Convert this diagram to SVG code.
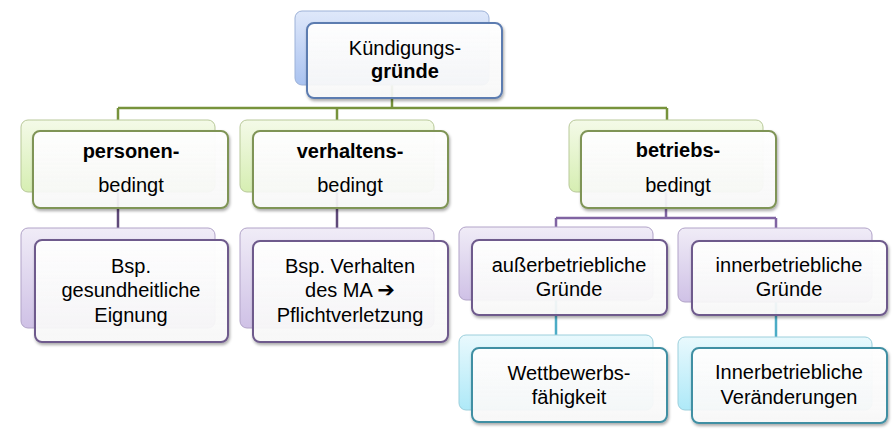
<svg xmlns="http://www.w3.org/2000/svg" width="896" height="440" viewBox="0 0 896 440">
<defs>
<linearGradient id="gBlue" x1="0" y1="0" x2="0" y2="1"><stop offset="0" stop-color="#dfe8fa"/><stop offset="1" stop-color="#a9c2f0"/></linearGradient>
<linearGradient id="gGreen" x1="0" y1="0" x2="0" y2="1"><stop offset="0" stop-color="#f4fae8"/><stop offset="1" stop-color="#d6eeb2"/></linearGradient>
<linearGradient id="gPurple" x1="0" y1="0" x2="0" y2="1"><stop offset="0" stop-color="#f0ecf7"/><stop offset="1" stop-color="#cfc1e6"/></linearGradient>
<linearGradient id="gCyan" x1="0" y1="0" x2="0" y2="1"><stop offset="0" stop-color="#e9f9fd"/><stop offset="1" stop-color="#aee9f8"/></linearGradient>
<linearGradient id="gFront" x1="0" y1="0" x2="0" y2="1"><stop offset="0" stop-color="#ffffff" stop-opacity="0.97"/><stop offset="1" stop-color="#fbfbfb" stop-opacity="0.9"/></linearGradient>
<filter id="sh" x="-10%" y="-10%" width="125%" height="130%"><feDropShadow dx="1" dy="2" stdDeviation="1.5" flood-color="#000" flood-opacity="0.35"/></filter>
</defs>
<style>
.b{stroke-width:1}
.f{fill:url(#gFront);stroke-width:2;filter:url(#sh)}
.bb{fill:url(#gBlue);stroke:#9db2d8}
.fb{stroke:#5b7bb0}
.bg{fill:url(#gGreen);stroke:#b9c99a}
.fg{stroke:#7f9457}
.bp{fill:url(#gPurple);stroke:#b1a3c8}
.fp{stroke:#6e5a8c}
.bc{fill:url(#gCyan);stroke:#9ccfdc}
.fc{stroke:#3f8fa3}
text{font-family:"Liberation Sans",Arial,sans-serif;font-size:20px;fill:#000;text-anchor:middle}
.bold{font-weight:bold}
.ln{fill:none;stroke-width:2.5}
</style>
<g id="connectors">
<path class="ln" stroke="#77933c" d="M392 85V108M118 108H667M118 108V120M337 108V120M667 108V120"/>
<path class="ln" stroke="#5f497a" d="M118 192V228M337 192V228"/>
<path class="ln" stroke="#8064a2" d="M666 192V218M556 218H776M556 218V227M776 218V228"/>
<path class="ln" stroke="#4bacc6" d="M556 300V335M776 302V337"/>
</g>
<g id="kuendigungsgruende">
<rect class="b bb" x="295" y="11" width="194" height="74" rx="7"/>
<rect class="f fb" x="307" y="23" width="195" height="75" rx="7"/>
<text x="405" y="55">Kündigungs-</text>
<text x="405" y="78" class="bold">gründe</text>
</g>
<g id="personenbedingt">
<rect class="b bg" x="21" y="120" width="194" height="72" rx="7"/>
<rect class="f fg" x="33" y="131" width="195" height="77" rx="7"/>
<text x="131" y="158" class="bold">personen-</text>
<text x="131" y="192">bedingt</text>
</g>
<g id="verhaltensbedingt">
<rect class="b bg" x="240" y="120" width="194" height="72" rx="7"/>
<rect class="f fg" x="253" y="131" width="195" height="77" rx="7"/>
<text x="350" y="158" class="bold">verhaltens-</text>
<text x="350" y="192">bedingt</text>
</g>
<g id="betriebsbedingt">
<rect class="b bg" x="569" y="120" width="194" height="72" rx="7"/>
<rect class="f fg" x="581" y="131" width="195" height="77" rx="7"/>
<text x="678" y="157" class="bold">betriebs-</text>
<text x="678" y="192">bedingt</text>
</g>
<g id="bsp-eignung">
<rect class="b bp" x="21" y="228" width="194" height="100" rx="7"/>
<rect class="f fp" x="35" y="240" width="193" height="102" rx="7"/>
<text x="131" y="273">Bsp.</text>
<text x="131" y="297">gesundheitliche</text>
<text x="131" y="322">Eignung</text>
</g>
<g id="bsp-verhalten">
<rect class="b bp" x="240" y="228" width="194" height="100" rx="7"/>
<rect class="f fp" x="253" y="241" width="195" height="101" rx="7"/>
<text x="350" y="273">Bsp. Verhalten</text>
<text x="350" y="297">des MA <tspan font-family="DejaVu Sans" font-weight="bold" font-size="21">➔</tspan></text>
<text x="350" y="322">Pflichtverletzung</text>
</g>
<g id="ausserbetrieblich">
<rect class="b bp" x="459" y="227" width="194" height="73" rx="7"/>
<rect class="f fp" x="472" y="240" width="195" height="75" rx="7"/>
<text x="569" y="272">außerbetriebliche</text>
<text x="569" y="296">Gründe</text>
</g>
<g id="innerbetrieblich">
<rect class="b bp" x="678" y="228" width="194" height="74" rx="7"/>
<rect class="f fp" x="692" y="241" width="195" height="74" rx="7"/>
<text x="789" y="272">innerbetriebliche</text>
<text x="789" y="296">Gründe</text>
</g>
<g id="wettbewerb">
<rect class="b bc" x="459" y="335" width="194" height="75" rx="7"/>
<rect class="f fc" x="472" y="348" width="195" height="74" rx="7"/>
<text x="569" y="380">Wettbewerbs-</text>
<text x="569" y="404">fähigkeit</text>
</g>
<g id="veraenderungen">
<rect class="b bc" x="678" y="337" width="194" height="73" rx="7"/>
<rect class="f fc" x="692" y="348" width="195" height="75" rx="7"/>
<text x="789" y="379">Innerbetriebliche</text>
<text x="789" y="404">Veränderungen</text>
</g>
</svg>
